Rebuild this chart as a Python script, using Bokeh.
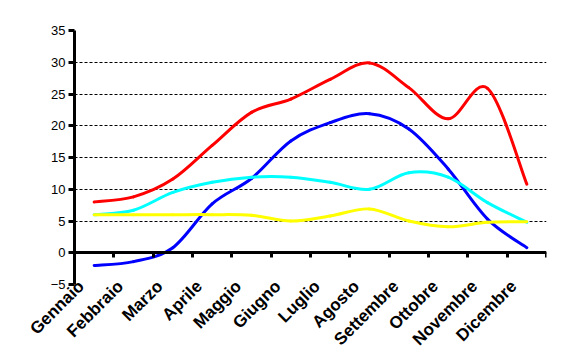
import math
from bokeh.plotting import figure
from bokeh.models import Range1d, LinearAxis, FixedTicker, ColumnDataSource, Grid
from bokeh.embed import file_html
from bokeh.resources import INLINE

months = ["Gennaio", "Febbraio", "Marzo", "Aprile", "Maggio", "Giugno",
          "Luglio", "Agosto", "Settembre", "Ottobre", "Novembre", "Dicembre"]
red = [8.0, 8.8, 11.6, 16.9, 22.1, 24.2, 27.3, 29.9, 26.0, 21.1, 25.9, 10.8]
blue = [-2.0, -1.4, 0.8, 7.7, 11.7, 17.6, 20.5, 21.9, 19.5, 13.2, 5.3, 0.8]
cyan = [6.0, 6.7, 9.5, 11.1, 11.9, 11.9, 11.1, 10.0, 12.6, 11.9, 7.9, 4.8]
yellow = [6.0, 6.0, 6.0, 6.0, 5.9, 5.0, 5.8, 6.9, 5.0, 4.1, 4.8, 4.9]
y_ticks = [-5, 0, 5, 10, 15, 20, 25, 30, 35]

LABEL_SHIFT = 0.33  # rotated labels end slightly left of the category centre


def smooth_source(vals):
    n = len(vals)
    xs = [i + 0.5 for i in range(n)]
    d = dict(x0=[], y0=[], x1=[], y1=[], cx0=[], cy0=[], cx1=[], cy1=[])
    for i in range(n - 1):
        pm = max(i - 1, 0)
        pp = min(i + 2, n - 1)
        d["x0"].append(xs[i]); d["y0"].append(vals[i])
        d["x1"].append(xs[i + 1]); d["y1"].append(vals[i + 1])
        d["cx0"].append(xs[i] + (xs[i + 1] - xs[pm]) / 6)
        d["cy0"].append(vals[i] + (vals[i + 1] - vals[pm]) / 6)
        d["cx1"].append(xs[i + 1] - (xs[pp] - xs[i]) / 6)
        d["cy1"].append(vals[i + 1] - (vals[pp] - vals[i]) / 6)
    return ColumnDataSource(d)


p = figure(frame_width=472, frame_height=254,
           x_range=Range1d(0, len(months)), y_range=Range1d(-5, 35),
           output_backend="svg", toolbar_location=None,
           x_axis_type=None, y_axis_type=None,
           min_border_left=74, min_border_top=30, min_border_right=17, min_border_bottom=10)
p.outline_line_color = None
p.background_fill_color = "white"
p.border_fill_color = "white"

# y axis
yax = LinearAxis(ticker=FixedTicker(ticks=y_ticks))
yax.axis_line_width = 3
yax.axis_line_color = "black"
yax.major_tick_line_width = 3
yax.major_tick_out = 6
yax.major_tick_in = 0
yax.minor_tick_line_color = None
yax.major_label_text_font = "Liberation Sans"
yax.major_label_text_font_size = "13px"
yax.major_label_text_color = "black"
yax.major_label_standoff = 3
p.add_layout(yax, "left")

# x axis line at y = 0 with tick marks at category boundaries (minor ticks, no labels)
xline = LinearAxis(ticker=FixedTicker(ticks=[], minor_ticks=list(range(len(months) + 1))),
                   fixed_location=0)
xline.axis_line_width = 3
xline.axis_line_color = "black"
xline.major_tick_line_color = None
xline.minor_tick_line_width = 3
xline.minor_tick_line_color = "black"
xline.minor_tick_out = 5
xline.minor_tick_in = 0
p.add_layout(xline, "below")

# category labels at the bottom
label_pos = [i + 0.5 - LABEL_SHIFT for i in range(len(months))]
xlab = LinearAxis(ticker=FixedTicker(ticks=label_pos))
xlab.major_label_overrides = {pos: m for pos, m in zip(label_pos, months)}
xlab.axis_line_color = None
xlab.major_tick_line_color = None
xlab.minor_tick_line_color = None
xlab.major_label_orientation = math.pi / 4
xlab.major_label_text_font = "Liberation Sans"
xlab.major_label_text_font_style = "bold"
xlab.major_label_text_font_size = "17px"
xlab.major_label_text_color = "black"
xlab.major_label_standoff = -7
p.add_layout(xlab, "below")

# horizontal dashed grid
grid = Grid(dimension=1, ticker=FixedTicker(ticks=y_ticks))
grid.grid_line_color = "black"
grid.grid_line_dash = "3 2"
grid.grid_line_width = 1
p.add_layout(grid)

for vals, col in [(blue, "#0000FF"), (red, "#FF0000"), (cyan, "#00FFFF"), (yellow, "#FFFF00")]:
    src = smooth_source(vals)
    p.bezier(x0="x0", y0="y0", x1="x1", y1="y1", cx0="cx0", cy0="cy0", cx1="cx1", cy1="cy1",
             source=src, line_color=col, line_width=3, line_cap="round")

open("out.html", "w").write(file_html(p, INLINE))
